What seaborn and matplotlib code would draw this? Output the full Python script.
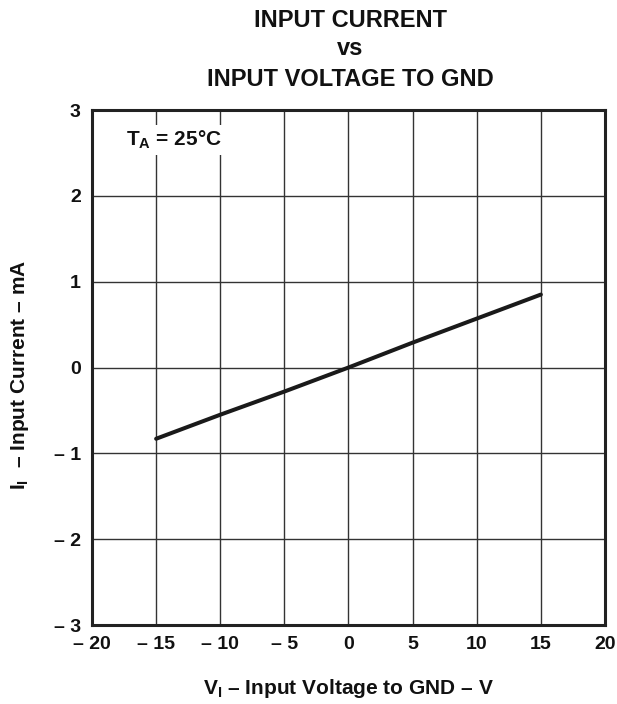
import matplotlib
matplotlib.use('Agg')
import matplotlib.pyplot as plt
import seaborn as sns
import pandas as pd

# data
voltage = [-15, -10, -5, 0, 5, 10, 15]
current = [-0.83, -0.55, -0.28, 0.0, 0.29, 0.57, 0.85]

x_ticks = [-20, -15, -10, -5, 0, 5, 10, 15, 20]
x_labels = ['– 20', '– 15', '– 10', '– 5', '0', '5', '10', '15', '20']
y_ticks = [-3, -2, -1, 0, 1, 2, 3]
y_labels = ['– 3', '– 2', '– 1', '0', '1', '2', '3']

sns.set_style('white')
plt.rcParams['font.family'] = ['Liberation Sans', 'DejaVu Sans']
plt.rcParams['font.weight'] = 'bold'
plt.rcParams['text.color'] = '#111111'
plt.rcParams['axes.labelcolor'] = '#111111'
plt.rcParams['xtick.color'] = '#111111'
plt.rcParams['ytick.color'] = '#111111'
plt.rcParams['mathtext.fontset'] = 'custom'
plt.rcParams['mathtext.rm'] = 'Liberation Sans:bold'
plt.rcParams['mathtext.it'] = 'Liberation Sans:bold'
plt.rcParams['mathtext.bf'] = 'Liberation Sans:bold'

df = pd.DataFrame({'V': voltage, 'I': current})

fig = plt.figure(figsize=(6.17, 7.04), dpi=100)
ax = fig.add_axes([0.1491, 0.1122, 0.8314, 0.7315])

for xv in x_ticks[1:-1]:
    ax.axvline(xv, color='#333333', lw=1.0, zorder=1)
for yv in y_ticks[1:-1]:
    ax.axhline(yv, color='#333333', lw=1.0, zorder=1)

sns.lineplot(data=df, x='V', y='I', ax=ax, color='#1a1a1a', lw=2.9, zorder=3)

ax.set_xlim(-20, 20)
ax.set_ylim(-3, 3)
ax.set_xticks(x_ticks)
ax.set_xticklabels(x_labels)
ax.set_yticks(y_ticks)
ax.set_yticklabels(y_labels)
ax.tick_params(labelsize=14, length=0, pad=8)
for s in ax.spines.values():
    s.set_linewidth(2.2)
    s.set_color('#222222')

ax.text(-17.35, 2.65, r'T$_\mathrm{A}$ = 25°C', fontsize=15, fontweight='bold',
        ha='left', va='center', zorder=4,
        bbox=dict(facecolor='white', edgecolor='none', pad=3))

ax.set_xlabel(r'V$_\mathrm{I}$ – Input Voltage to GND – V', fontsize=15,
              fontweight='bold', va='center')
ax.xaxis.set_label_coords(0.5, -0.124)
ax.set_ylabel(r'I$_\mathrm{I}$  – Input Current – mA', fontsize=15,
              fontweight='bold', va='center')
ax.yaxis.set_label_coords(-0.140, 0.485)

fig.text(0.568, 0.9616, 'INPUT CURRENT', ha='center', va='baseline',
         fontsize=17, fontweight='bold')
fig.text(0.568, 0.9219, 'vs', ha='center', va='baseline',
         fontsize=17, fontweight='bold')
fig.text(0.568, 0.8778, 'INPUT VOLTAGE TO GND', ha='center', va='baseline',
         fontsize=17, fontweight='bold')

fig.savefig('out.png', dpi=100)
